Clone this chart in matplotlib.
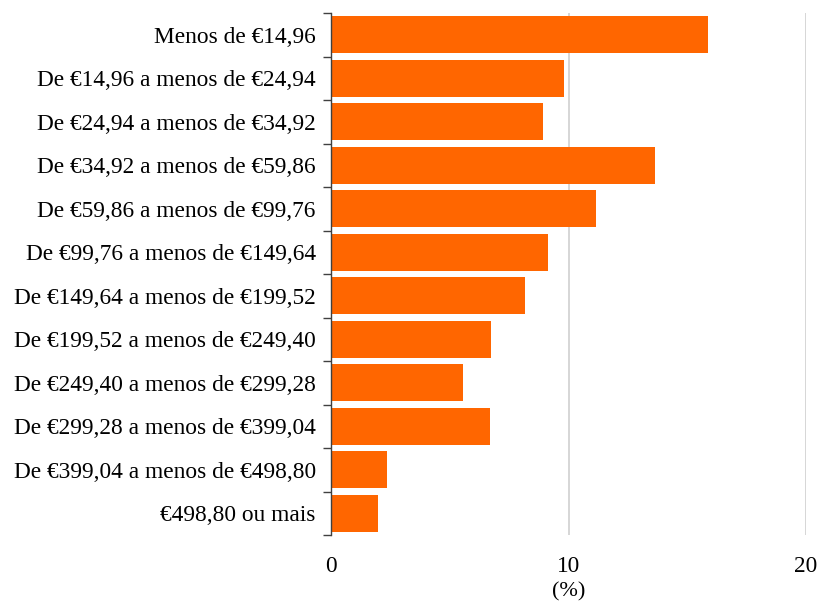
import matplotlib
matplotlib.use("Agg")
import matplotlib.pyplot as plt

categories = [
    "Menos de €14,96",
    "De €14,96 a menos de €24,94",
    "De €24,94 a menos de €34,92",
    "De €34,92 a menos de €59,86",
    "De €59,86 a menos de €99,76",
    "De €99,76 a menos de €149,64",
    "De €149,64 a menos de €199,52",
    "De €199,52 a menos de €249,40",
    "De €249,40 a menos de €299,28",
    "De €299,28 a menos de €399,04",
    "De €399,04 a menos de €498,80",
    "€498,80 ou mais",
]
values = [15.87, 9.81, 8.93, 13.64, 11.16, 9.14, 8.17, 6.74, 5.56, 6.69, 2.36, 1.97]
x_ticks = [0, 10, 20]

plt.rcParams["font.family"] = ["Liberation Serif", "DejaVu Serif"]

fig = plt.figure(figsize=(8.18, 6.04), dpi=100)
ax = fig.add_axes([331 / 818, 1 - 535 / 604, (806 - 331) / 818, (535 - 13) / 604])

n = len(categories)
pos = list(range(n))
ax.barh(pos, values, height=0.84, color="#FF6600", zorder=3)
ax.set_ylim(n - 0.5, -0.5)
ax.set_xlim(0, 20)

ax.set_yticks(pos)
ax.set_yticklabels(categories, fontsize=16.8)
ax.tick_params(axis="y", which="major", length=0, pad=11)
ax.set_yticks([i - 0.5 for i in range(n + 1)], minor=True)
ax.tick_params(axis="y", which="minor", length=6, width=1, color="#404040")

ax.set_xticks(x_ticks)
ax.set_xticklabels([str(t) for t in x_ticks], fontsize=16.8)
ax.tick_params(axis="x", length=0, pad=15)
ax.set_xlabel("(%)", fontsize=16, labelpad=4)

ax.grid(axis="x", color="#D0D0D0", linewidth=1.2, zorder=0)
for s in ("top", "right", "bottom"):
    ax.spines[s].set_visible(False)
ax.spines["left"].set_color("#404040")
ax.spines["left"].set_linewidth(1)
ax.spines["left"].set_zorder(4)

fig.savefig("out.png", dpi=100)
